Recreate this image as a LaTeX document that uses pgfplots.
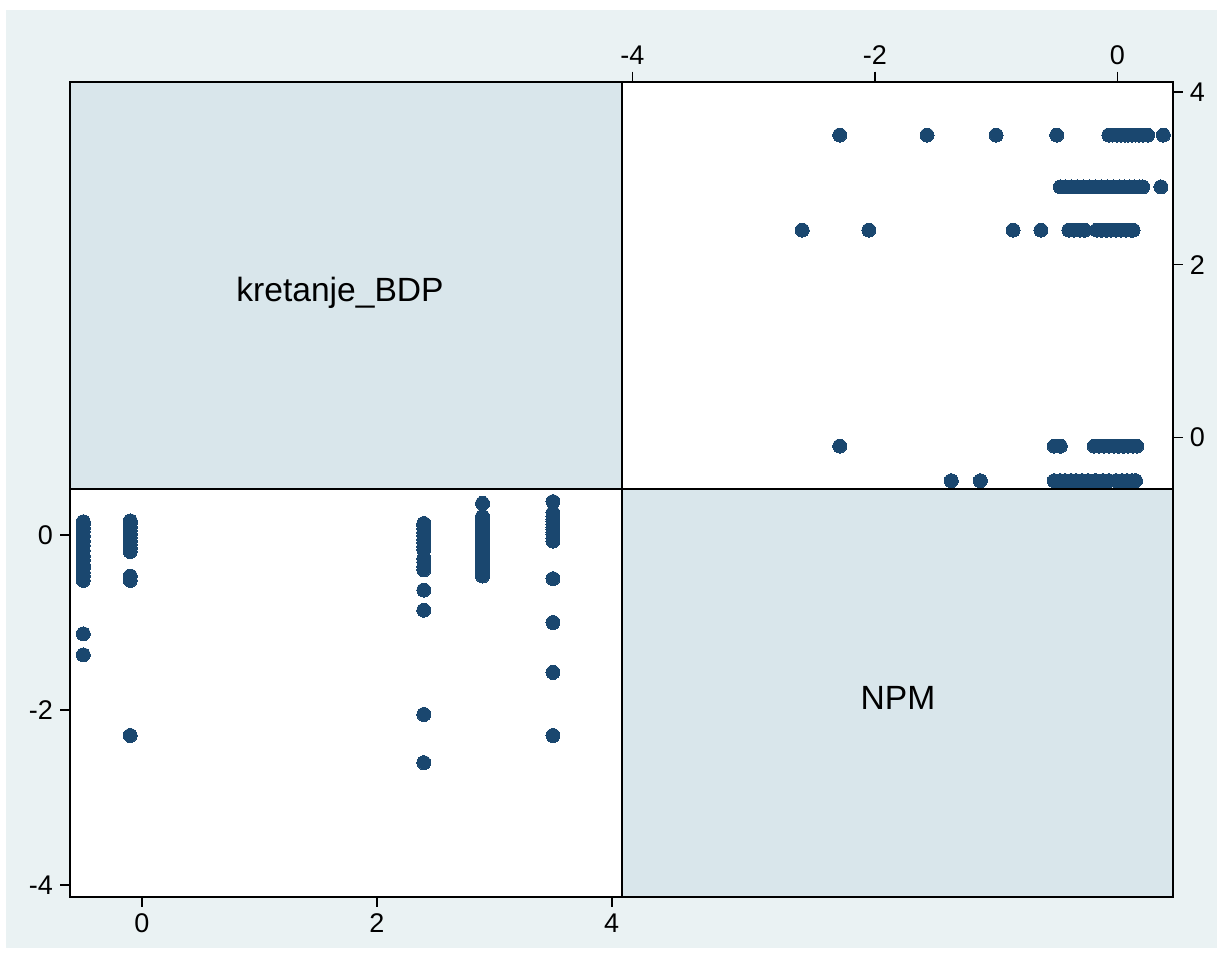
\documentclass[border=0pt]{standalone}
\usepackage{pgfplots}
\usepackage{pgfplotstable}
\pgfplotsset{compat=1.18}
\usepackage{fontspec}
\setmainfont{Liberation Sans}
\definecolor{bgc}{HTML}{EAF2F3}
\definecolor{diag}{HTML}{D9E6EB}
\definecolor{mk}{HTML}{1A476F}

\pgfplotstableread{
npm bdp
-2.29 3.5
-1.57 3.5
-1.00 3.5
-0.50 3.5
-0.07 3.5
-0.04 3.5
0.00 3.5
0.03 3.5
0.06 3.5
0.09 3.5
0.12 3.5
0.15 3.5
0.18 3.5
0.21 3.5
0.25 3.5
0.38 3.5
-0.47 2.9
-0.43 2.9
-0.38 2.9
-0.33 2.9
-0.28 2.9
-0.23 2.9
-0.18 2.9
-0.13 2.9
-0.08 2.9
-0.03 2.9
0.02 2.9
0.06 2.9
0.10 2.9
0.14 2.9
0.18 2.9
0.21 2.9
0.36 2.9
-2.60 2.4
-2.05 2.4
-0.86 2.4
-0.63 2.4
-0.40 2.4
-0.36 2.4
-0.31 2.4
-0.27 2.4
-0.17 2.4
-0.13 2.4
-0.09 2.4
-0.05 2.4
-0.01 2.4
0.03 2.4
0.07 2.4
0.11 2.4
0.13 2.4
-2.29 -0.1
-0.52 -0.1
-0.47 -0.1
-0.19 -0.1
-0.15 -0.1
-0.11 -0.1
-0.07 -0.1
-0.03 -0.1
0.01 -0.1
0.05 -0.1
0.09 -0.1
0.13 -0.1
0.16 -0.1
-1.37 -0.5
-1.13 -0.5
-0.52 -0.5
-0.47 -0.5
-0.43 -0.5
-0.38 -0.5
-0.34 -0.5
-0.29 -0.5
-0.24 -0.5
-0.18 -0.5
-0.12 -0.5
-0.07 -0.5
-0.01 -0.5
0.04 -0.5
0.08 -0.5
0.12 -0.5
0.15 -0.5
}\data

\pgfplotsset{
  mat/.style={
    scale only axis,
    axis line style={black, line width=1pt},
    tick style={black, line width=0.8pt},
    major tick length=5pt,
    tick align=outside,
    ticklabel style={font=\fontsize{13.5}{16}\selectfont},
    axis background/.style={fill=white},
  },
  pts/.style={only marks, mark=*, mark size=3.5pt,
    mark options={fill=mk, draw=mk, line width=0pt}},
}

\begin{document}
\begin{tikzpicture}
\useasboundingbox (0,0) rectangle (611.5pt,479pt);
\fill[white] (0,0) rectangle (611.5pt,479pt);
\fill[bgc] (3pt,5pt) rectangle (608.5pt,474pt);

% diagonal panels
\fill[diag] (35pt,234.5pt) rectangle (310.85pt,438.15pt);
\draw[black, line width=1pt] (35pt,234.5pt) rectangle (310.85pt,438.15pt);
\node[font=\fontsize{16.8}{20}\selectfont] at (170pt,332.8pt) {kretanje\_BDP};
\fill[diag] (310.85pt,30.5pt) rectangle (586.35pt,234.5pt);
\draw[black, line width=1pt] (310.85pt,30.5pt) rectangle (586.35pt,234.5pt);
\node[font=\fontsize{16.8}{20}\selectfont] at (449pt,130pt) {NPM};

% top-right: x = NPM, y = kretanje_BDP
\begin{axis}[mat,
  at={(310.85pt,234.5pt)}, anchor=south west,
  width=275.5pt, height=203.65pt,
  xmin=-4.089, xmax=0.457, ymin=-0.596, ymax=4.118,
  xtick={-4,-2,0}, xticklabels={-4,-2,0},
  ytick={0,2,4}, yticklabels={0,2,4},
  xtick pos=right, xticklabel pos=right,
  ytick pos=right, yticklabel pos=right,
]
\addplot[pts] table[x=npm, y=bdp] {\data};
\end{axis}

% bottom-left: x = kretanje_BDP, y = NPM
\begin{axis}[mat,
  at={(35pt,30.5pt)}, anchor=south west,
  width=275.85pt, height=204pt,
  xmin=-0.613, xmax=4.085, ymin=-4.134, ymax=0.524,
  xtick={0,2,4}, xticklabels={0,2,4},
  ytick={-4,-2,0}, yticklabels={-4,-2,0},
  xtick pos=left, xticklabel pos=left,
  ytick pos=left, yticklabel pos=left,
]
\addplot[pts] table[x=bdp, y=npm] {\data};
\end{axis}
\end{tikzpicture}
\end{document}
